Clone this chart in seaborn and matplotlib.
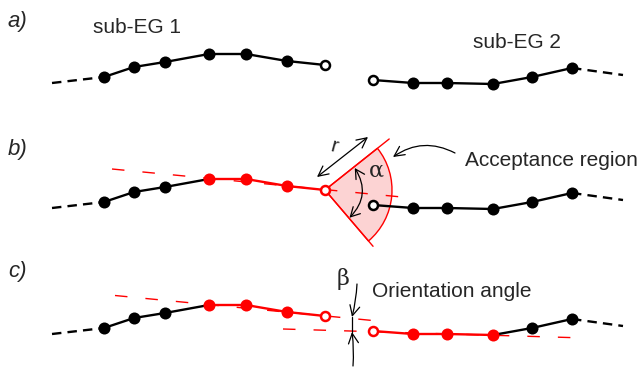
import numpy as np
import matplotlib.pyplot as plt
import seaborn as sns
from matplotlib.patches import Wedge, FancyArrowPatch

# sub-EG points, picture coords (pixels) of panel a)
eg1_x = [104, 134, 165, 209, 246, 287, 325]
eg1_y = [77, 67, 62, 54, 54, 61, 65]
eg2_x = [373, 413, 447, 493, 532, 572]
eg2_y = [80, 83, 83, 84, 77, 68]

# dashed continuations of the chains
ext1_x = [52, 104]
ext1_y = [83, 77]
ext2_x = [572, 623]
ext2_y = [68, 75]

# fitted end directions (red dashed), panel a) frame
tan1_b_x = [112, 412]
tan1_b_y = [44, 73]
tan1_c_x = [115, 388]
tan1_c_y = [44.5, 71]
tan2_x = [283, 585]
tan2_y = [78, 87]

# acceptance region
acc_r = 67
acc_half = 44          # degrees
alpha_r = 37

panel_dy = [0, 125, 251]
panel_lab = ['a)', 'b)', 'c)']
lab_y = [27, 155, 277]

RED = '#ff0000'
LW = 1.7

sns.set_style("white")
plt.rcParams['font.family'] = ['Liberation Sans', 'DejaVu Sans']

fig = plt.figure(figsize=(6.42, 3.69), dpi=100)
ax = fig.add_axes([0, 0, 1, 1])
ax.set_xlim(0, 642)
ax.set_ylim(369, 0)
ax.axis('off')


def line(xs, ys, dy, color, ls='-', lw=LW, z=2):
    sns.lineplot(x=list(xs), y=[v + dy for v in ys], sort=False, estimator=None,
                 color=color, lw=lw, linestyle=ls, ax=ax, zorder=z, legend=False)


def dots(xs, ys, dy, color, open_=False):
    ys = [v + dy for v in ys]
    if open_:
        sns.scatterplot(x=xs, y=ys, s=42, color='white', edgecolor=color,
                        linewidth=1.8, ax=ax, zorder=5, legend=False)
    else:
        sns.scatterplot(x=xs, y=ys, s=75, color=color, edgecolor=color,
                        linewidth=0, ax=ax, zorder=4, legend=False)


def chain(xs, ys, dy, red_from=None, red_to=None):
    n = len(xs)
    cols = ['black'] * n
    if red_from is not None:
        for i in range(red_from, red_to + 1):
            cols[i] = RED
    for i in range(n - 1):
        c = RED if (cols[i] == RED and cols[i + 1] == RED) else 'black'
        line(xs[i:i + 2], ys[i:i + 2], dy, c)
    return cols


dash_blk = (0, (4, 2.6))
dash_red = (0, (9, 13))

for k, dy in enumerate(panel_dy):
    line(ext1_x, ext1_y, dy, 'black', ls=dash_blk)
    line(ext2_x, ext2_y, dy, 'black', ls=dash_blk)
    if k == 0:
        c1 = chain(eg1_x, eg1_y, dy)
        c2 = chain(eg2_x, eg2_y, dy)
    elif k == 1:
        c1 = chain(eg1_x, eg1_y, dy, 3, 6)
        c2 = chain(eg2_x, eg2_y, dy)
    else:
        c1 = chain(eg1_x, eg1_y, dy, 3, 6)
        c2 = chain(eg2_x, eg2_y, dy, 0, 3)
    # filled points, open end points
    for xs, ys, cols, end in [(eg1_x, eg1_y, c1, -1), (eg2_x, eg2_y, c2, 0)]:
        e = end % len(xs)
        idx = [i for i in range(len(xs)) if i != e]
        for col in set(cols[i] for i in idx):
            sel = [i for i in idx if cols[i] == col]
            dots([xs[i] for i in sel], [ys[i] for i in sel], dy, col)
        dots([xs[e]], [ys[e]], dy, cols[e], open_=True)
    ax.text(8, lab_y[k], panel_lab[k], fontsize=16, style='italic', va='baseline')

ax.text(93, 33, 'sub-EG 1', fontsize=15, va='baseline')
ax.text(473, 48, 'sub-EG 2', fontsize=15, va='baseline')

# ---- panel b: tangent + acceptance region
dy = panel_dy[1]
line(tan1_b_x, tan1_b_y, dy, RED, ls=dash_red, lw=1.0, z=1.8)
apex = (eg1_x[-1], eg1_y[-1] + dy)
ang = np.degrees(np.arctan2(tan1_b_y[1] - tan1_b_y[0], tan1_b_x[1] - tan1_b_x[0]))
t1, t2 = ang - acc_half, ang + acc_half
ax.add_patch(Wedge(apex, acc_r, t1, t2, facecolor='#fcd3d3', edgecolor=RED,
                   lw=1.0, zorder=1))
for t, L in [(t1, 82), (t2, 74)]:
    a = np.radians(t)
    ax.plot([apex[0], apex[0] + L * np.cos(a)], [apex[1], apex[1] + L * np.sin(a)],
            color=RED, lw=1.0, zorder=1.5)

# alpha arc
pa = (apex[0] + alpha_r * np.cos(np.radians(t1 + 2)), apex[1] + alpha_r * np.sin(np.radians(t1 + 2)))
pb = (apex[0] + alpha_r * np.cos(np.radians(t2 - 1)), apex[1] + alpha_r * np.sin(np.radians(t2 - 1)))
ax.add_patch(FancyArrowPatch(pa, pb, arrowstyle='<->,head_length=0.55,head_width=0.3',
                             mutation_scale=12, connectionstyle='arc3,rad=-0.39',
                             color='black', lw=0.9, shrinkA=0, shrinkB=0, zorder=6))
ax.text(376, 171, 'α', fontsize=16, family='DejaVu Serif', ha='center', va='center')

# r arrow
ax.add_patch(FancyArrowPatch((317, 177), (368, 137), arrowstyle='<->,head_length=0.6,head_width=0.3',
                             mutation_scale=12, color='black', lw=0.9,
                             shrinkA=0, shrinkB=0, zorder=6))
ax.text(334, 147, 'r', fontsize=15, ha='center', va='center', rotation=-15)

# acceptance region label
ax.add_patch(FancyArrowPatch((455, 153), (393, 157), arrowstyle='->,head_length=0.6,head_width=0.3',
                             mutation_scale=12, connectionstyle='arc3,rad=0.3',
                             color='black', lw=0.9, shrinkA=0, shrinkB=0, zorder=6))
ax.text(465, 166, 'Acceptance region', fontsize=15, va='baseline')

# ---- panel c: both directions + orientation angle
dy = panel_dy[2]
line(tan1_c_x, tan1_c_y, dy, RED, ls=dash_red, lw=1.0, z=1.8)
line(tan2_x, tan2_y, dy, RED, ls=dash_red, lw=1.0, z=1.8)
ax.add_patch(FancyArrowPatch((357, 284), (352, 317), arrowstyle='->,head_length=0.6,head_width=0.3',
                             mutation_scale=12, connectionstyle='arc3,rad=-0.05',
                             color='black', lw=0.9, shrinkA=0, shrinkB=0, zorder=6))
ax.add_patch(FancyArrowPatch((353, 366), (352, 332), arrowstyle='->,head_length=0.6,head_width=0.3',
                             mutation_scale=12, connectionstyle='arc3,rad=0.05',
                             color='black', lw=0.9, shrinkA=0, shrinkB=0, zorder=6))
ax.plot([352, 352], [317, 332], color='black', lw=0.9, zorder=6)
ax.text(343, 279, 'β', fontsize=16, family='DejaVu Serif', ha='center', va='center')
ax.text(372, 297, 'Orientation angle', fontsize=15, va='baseline')

fig.savefig('out.png', dpi=100)
